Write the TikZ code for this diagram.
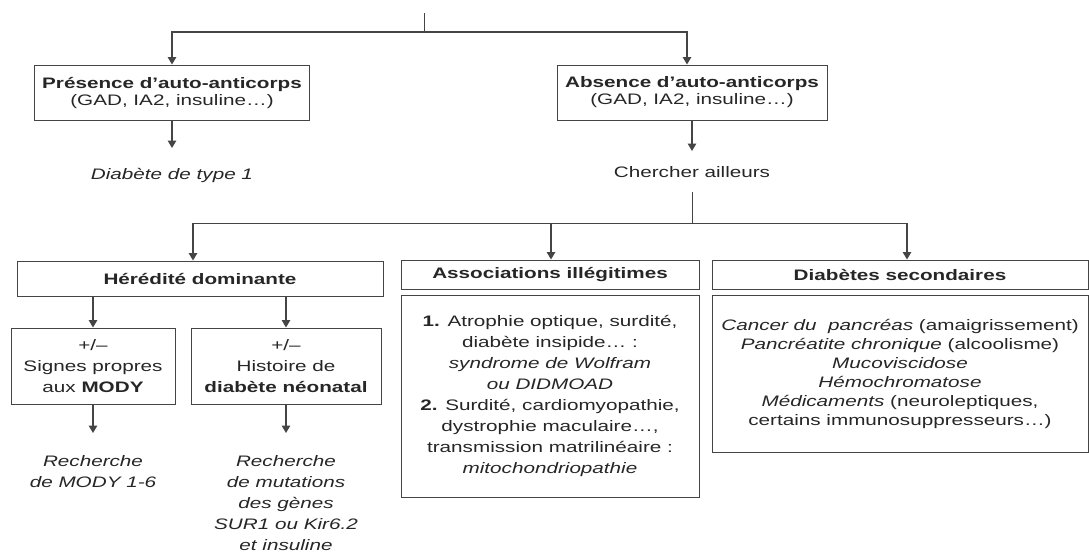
\documentclass[tikz,border=0pt]{standalone}
\usepackage{fontspec}
\setmainfont{Liberation Sans}[FakeStretch=1.36]
\usetikzlibrary{arrows.meta}
\definecolor{ink}{HTML}{262626}
\definecolor{rule}{HTML}{454545}
\tikzset{
  box/.style={draw=rule, line width=1pt, rectangle, inner sep=0pt, align=center, text=ink,
    font=\fontsize{15.2}{21}\selectfont},
  lbl/.style={inner sep=0pt, align=center, text=ink, font=\fontsize{15.2}{21}\selectfont},
  arr/.style={draw=rule, line width=1.4pt, -{Triangle[width=8.5pt,length=7.5pt]}},
  ln/.style={draw=rule, line width=1pt}
}
\begin{document}
\begin{tikzpicture}[x=1pt,y=-1pt]
\useasboundingbox (0,0) rectangle (1089,554);
% top level
\coordinate (top) at (424,13);
\coordinate (j1) at (424,32);
\node[box, minimum width=275pt, minimum height=55pt, font=\fontsize{15.2}{17}\selectfont] (pres) at (172,92.5)
  {\textbf{Présence d’auto-anticorps}\\(GAD, IA2, insuline…)};
\node[box, minimum width=270pt, minimum height=55pt, font=\fontsize{15.2}{17}\selectfont] (abs) at (692,92.5)
  {\textbf{Absence d’auto-anticorps}\\(GAD, IA2, insuline…)};
\node[lbl] (d1) at (172,175) {\itshape Diabète de type 1};
\node[lbl] (cher) at (692,172) {Chercher ailleurs};
\coordinate (d1top) at (172,148);
\coordinate (chertop) at (692,151);
\draw[ln] (top) -- (j1);
\draw[arr] (j1) -| (pres.north);
\draw[arr] (j1) -| ([xshift=-5pt]abs.north);
\draw[arr] (pres.south) -- (d1top);
\draw[arr] (abs.south) -- (chertop);
% second level
\coordinate (cherbot) at (692,192);
\coordinate (j2) at (692,223);
\coordinate (ja) at (193,223);
\coordinate (jb) at (551,223);
\coordinate (jc) at (907,223);
\node[box, minimum width=366pt, minimum height=35pt] (hered) at (200,278.5) {\textbf{Hérédité dominante}};
\node[box, minimum width=298pt, minimum height=29pt] (assoc) at (550,274.5) {\textbf{Associations illégitimes}};
\node[box, minimum width=298pt, minimum height=202pt] (assocb) at (550,396)
  {\textbf{1.} Atrophie optique, surdité,\\diabète insipide… :\\\textit{syndrome de Wolfram}\\\textit{ou DIDMOAD}\\
   \textbf{2.} Surdité, cardiomyopathie,\\dystrophie maculaire…,\\transmission matrilinéaire :\\\textit{mitochondriopathie}};
\node[box, minimum width=376pt, minimum height=29pt] (diab) at (900,274.5) {\textbf{Diabètes secondaires}};
\node[box, minimum width=376pt, minimum height=157pt, font=\fontsize{15.2}{19}\selectfont] (diabb) at (900,373.5)
  {\textit{Cancer du \ pancréas} (amaigrissement)\\\textit{Pancréatite chronique} (alcoolisme)\\\textit{Mucoviscidose}\\
   \textit{Hémochromatose}\\\textit{Médicaments} (neuroleptiques,\\certains immunosuppresseurs…)};
\draw[ln] (cherbot) -- (j2);
\draw[ln] (ja) -- (jc);
\draw[arr] (ja) -- (ja |- hered.north);
\draw[arr] (jb) -- (jb |- assoc.north);
\draw[arr] (jc) -- (jc |- diab.north);
% third level
\node[box, minimum width=164pt, minimum height=76pt] (mody) at (93,366)
  {+/–\\Signes propres\\aux \textbf{MODY}};
\node[box, minimum width=190pt, minimum height=76pt] (neo) at (286,366)
  {+/–\\Histoire de\\\textbf{diabète néonatal}};
\draw[arr] (hered.south -| mody.north) -- (mody.north);
\draw[arr] (hered.south -| neo.north) -- (neo.north);
\node[lbl, anchor=north] (rmody) at (93,455) {\itshape Recherche\\\itshape de MODY 1-6};
\node[lbl, anchor=north] (rneo) at (286,455) {\itshape Recherche\\\itshape de mutations\\\itshape des gènes\\\itshape SUR1 ou Kir6.2\\\itshape et insuline};
\coordinate (rmodytop) at (93,433);
\coordinate (rneotop) at (286,433);
\draw[arr] (mody.south) -- (rmodytop);
\draw[arr] (neo.south) -- (rneotop);
\end{tikzpicture}
\end{document}
